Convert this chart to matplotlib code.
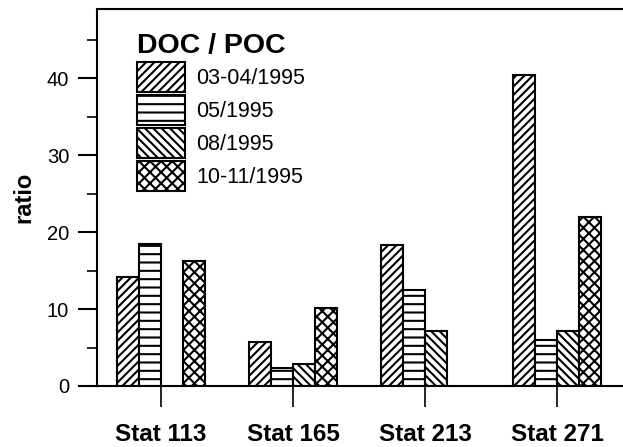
import numpy as np
import matplotlib
matplotlib.use('Agg')
import matplotlib.pyplot as plt

plt.rcParams['font.family'] = ['Liberation Sans', 'DejaVu Sans']
plt.rcParams['hatch.linewidth'] = 1.5
plt.rcParams['hatch.color'] = 'black'

# values
stations = ['Stat 113', 'Stat 165', 'Stat 213', 'Stat 271']
periods = ['03-04/1995', '05/1995', '08/1995', '10-11/1995']
ratio_0304 = [14.2, 5.7, 18.3, 40.4]
ratio_05 = [18.4, 2.4, 12.5, 6.0]
ratio_08 = [np.nan, 2.9, 7.1, 7.2]
ratio_1011 = [16.3, 10.1, np.nan, 22.0]

series = [ratio_0304, ratio_05, ratio_08, ratio_1011]
hatches = ['////', '--', '\\\\\\\\', 'xxx']

fig = plt.figure(figsize=(6.23, 4.47), dpi=100)
ax = fig.add_axes([0.1557, 0.1365, 0.8443, 0.8435])

x = np.arange(len(stations))
w = 0.167
for j, (vals, h, lab) in enumerate(zip(series, hatches, periods)):
    ax.bar(x + (j - 1.5) * w, vals, width=w, facecolor='white',
           edgecolor='black', linewidth=1.5, hatch=h, label=lab)

ax.set_xlim(-0.485, 3.5)
ax.set_ylim(0, 49)
ax.set_yticks([0, 10, 20, 30, 40])
ax.set_yticks([5, 15, 25, 35, 45], minor=True)
ax.set_xticks(x)
ax.set_xticklabels(stations, fontsize=17.5, fontweight='bold')
ax.tick_params(axis='y', which='major', direction='out', length=14,
               width=1.5, pad=6, labelsize=14.5)
ax.tick_params(axis='y', which='minor', direction='out', length=7, width=1.2)
ax.tick_params(axis='x', which='major', direction='out', length=15,
               width=1.2, pad=11.5)

for s in ['left', 'bottom', 'top']:
    ax.spines[s].set_linewidth(1.5)
ax.spines['right'].set_visible(False)

ax.set_ylabel('ratio', fontsize=17, fontweight='bold')
ax.yaxis.set_label_coords(-0.118, 0.5)

leg = ax.legend(title='DOC / POC', loc='upper left',
                bbox_to_anchor=(0.076, 0.937), frameon=False, fontsize=15.5,
                handlelength=2.25, handleheight=1.73, labelspacing=0.163,
                handletextpad=0.5, borderpad=0, borderaxespad=0,
                alignment='left',
                title_fontproperties={'size': 20.5, 'weight': 'bold'})

fig.savefig('out.png', dpi=100)
